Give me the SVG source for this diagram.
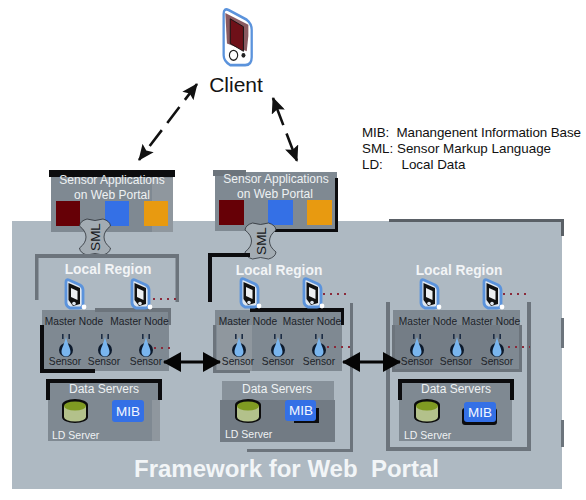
<svg xmlns="http://www.w3.org/2000/svg" width="586" height="500" viewBox="0 0 586 500">
<style>
text{font-family:"Liberation Sans",Arial,sans-serif}
.app{font-size:12px;fill:#eef1f3;text-anchor:middle}
.lr{font-size:13.8px;font-weight:bold;fill:#f2f4f6;text-anchor:middle}
.mn{font-size:10.2px;fill:#1c2228;text-anchor:middle}
.se{font-size:10.2px;fill:#1c2228;text-anchor:middle}
.ds{font-size:12px;fill:#eef1f3;text-anchor:middle}
.ld{font-size:10.5px;fill:#eef1f3}
.mib{font-size:13.5px;fill:#f2f6ff;text-anchor:middle}
.leg{font-size:13.4px;fill:#111;white-space:pre}
.k{fill:#0c0c0e}
.g{fill:#6c747c}
.panel{fill:#7f8992}
.dots{stroke:#8a2a3a;stroke-width:2;stroke-dasharray:2 5;fill:none}
.dash{stroke:#111;stroke-width:2.6;fill:none;stroke-dasharray:20 9;marker-start:url(#head);marker-end:url(#head)}
.solid{stroke:#050505;stroke-width:3;fill:none;marker-start:url(#head2);marker-end:url(#head2)}
</style>
<defs>
<marker id="head" viewBox="0 0 16 14" refX="15" refY="7" markerUnits="userSpaceOnUse" markerWidth="16" markerHeight="14" orient="auto-start-reverse"><path d="M0 0L16 7L0 14L3 7Z" fill="#111"/></marker>
<marker id="head2" viewBox="0 0 18 20" refX="17" refY="10" markerUnits="userSpaceOnUse" markerWidth="18" markerHeight="20" orient="auto-start-reverse"><path d="M0 0L18 10L0 20Z" fill="#050505"/></marker>
<g id="device">
<path d="M1 3Q1 0 4 1L15 6Q18 8 18 11V25Q18 29 14 29L5 29Q1 27 1 24Z" fill="#dfe6ee" stroke="#5b93dc" stroke-width="2.8"/>
<path d="M3.500 4L15 9V25L8 27L3.500 21Z" fill="#111"/>
<path d="M6 9L12.500 12V21L6 18Z" fill="#eceff2"/>
<circle cx="9" cy="24.500" r="1.800" fill="#dfe6ee"/>
<circle cx="19" cy="28" r="2.400" fill="#fff"/>
</g>
<g id="sensor">
<circle cx="0" cy="0" r="7" fill="#0d1a2c"/>
<path d="M0 -13C1.500 -6 4.500 -2 4.500 2A4.500 4.500 0 0 1 -4.500 2C-4.500 -2 -1.500 -6 0 -13Z" fill="#79b5ee"/>
<path d="M-3.200 -16V-11M3.200 -16V-11" stroke="#1c2c44" stroke-width="1.600"/>
</g>
<g id="cyl">
<ellipse cx="0" cy="6" rx="13" ry="6" fill="#0c0c0c"/>
<rect x="-13" y="-6" width="26" height="12" fill="#0c0c0c"/>
<ellipse cx="0" cy="-6" rx="13" ry="6" fill="#0c0c0c"/>
<path d="M-11 -5V6A11 4.500 0 0 0 11 6V-5Z" fill="#b3c18b"/>
<ellipse cx="0" cy="-5" rx="11" ry="4.500" fill="#7f9a22"/>
</g>
<g id="sml">
<path d="M-8 -18Q0 -15 8 -18Q15 -16 15.500 -11Q9 -6 9 0Q9 6 15.500 11Q15 16 8 18Q0 15 -8 18Q-15 16 -15.500 11Q-9 6 -9 0Q-9 -6 -15.500 -11Q-15 -16 -8 -18Z" fill="#a3acb3" stroke="#2b3036" stroke-width="0.800"/>
<text transform="rotate(-90) translate(0 5)" style="font-size:13.500px;fill:#15181b;text-anchor:middle">SML</text>
</g>
</defs>
<rect width="586" height="500" fill="#fff"/>

<g id="framework">
<rect x="12" y="221" width="550" height="268" fill="#aeb9c2"/>
<path d="M389 219H564V236H561V222H389Z" fill="#5a6066"/>
<rect x="561" y="318" width="3" height="30" class="g"/>
<rect x="561" y="420" width="3" height="27" class="g"/>
<text x="134" y="477" style="font-size:24px;font-weight:bold;fill:#f2f5f7;white-space:pre">Framework for Web  Portal</text>
</g>

<g id="client">
<g transform="translate(222 8) scale(1.65 1.97)"><path d="M1 3Q1 0 4 1L15 6Q18 8 18 11V25Q18 29 14 29L5 29Q1 27 1 24Z" fill="#fff" stroke="#5b93dc" stroke-width="1.400"/>
<path d="M2 2.500L16 8.500V14L15 22L3 18Z" fill="#8a5a60"/>
<path d="M5 5.500L13 9.500V22L5 18Z" fill="#6e1018" stroke="#111" stroke-width="0.500"/>
<circle cx="7" cy="24" r="2.500" fill="#fff" stroke="#222" stroke-width="0.700"/>
<circle cx="13" cy="24" r="1.200" fill="#222"/></g>
<text x="236" y="92" style="font-size:21px;fill:#141414;text-anchor:middle">Client</text>
</g>

<g id="legend">
<text x="362" y="137" class="leg" textLength="219">MIB:  Manangenent Information Base</text>
<text x="362" y="153" class="leg">SML: Sensor Markup Language</text>
<text x="362" y="169" class="leg">LD:     Local Data</text>
</g>

<g id="app1">
<rect x="51" y="172" width="122" height="60" class="panel"/>
<rect x="152" y="178" width="21" height="54" fill="#8f979e"/>
<rect x="49" y="170" width="126" height="7" class="k"/>
<text x="112" y="184" class="app">Sensor Applications</text>
<text x="112" y="199" class="app">on Web Portal</text>
<rect x="56" y="201" width="24" height="25" fill="#660006"/>
<rect x="105" y="201" width="24" height="25" fill="#3470e6"/>
<rect x="144" y="201" width="24" height="25" fill="#e89a10"/>
</g>
<g id="app2">
<rect x="215" y="172" width="122" height="59" class="panel"/>
<rect x="213" y="170" width="33" height="6" class="g"/>
<path d="M335 178H338V232H275V229H335Z" class="k"/>
<text x="276" y="183" class="app">Sensor Applications</text>
<text x="275" y="198" class="app">on Web Portal</text>
<rect x="219" y="200" width="25" height="25" fill="#660006"/>
<rect x="268" y="200" width="25" height="25" fill="#3470e6"/>
<rect x="307" y="200" width="25" height="25" fill="#e89a10"/>
</g>
<g id="sml1"><use href="#sml" x="95" y="237"/></g>
<g id="sml2"><use href="#sml" x="260.500" y="241"/></g>

<g id="region1">
<path d="M35 300V254H179V302H175.500V258H38.500V300Z" class="g"/>
<text x="108" y="274" class="lr">Local Region</text>
<rect x="42" y="310" width="127" height="61" fill="#7f8992"/>
<rect x="95" y="308" width="76" height="4" class="g"/>
<rect x="168" y="308" width="3" height="17" class="g"/>
<path d="M40 325H44V369H95V373H40Z" class="k"/>
<use href="#device" x="65" y="279"/>
<use href="#device" x="131" y="279"/>
<path d="M153 299H176" class="dots"/>
<text x="74" y="325" class="mn">Master Node</text>
<text x="139.500" y="325" class="mn">Master Node</text>
<use href="#sensor" x="66" y="350"/>
<use href="#sensor" x="105" y="350"/>
<use href="#sensor" x="146" y="350"/>
<path d="M154 348H175" class="dots"/>
<text x="65" y="365" class="se">Sensor</text>
<text x="104" y="365" class="se">Sensor</text>
<text x="146" y="365" class="se">Sensor</text>
</g>
<g id="data1">
<rect x="48" y="380" width="112" height="61" class="panel"/>
<rect x="152" y="400" width="8" height="41" fill="#8f979e"/>
<path d="M46 379H162V400H158V383H50V400H46Z" class="k"/>
<text x="104" y="393" class="ds">Data Servers</text>
<use href="#cyl" x="75" y="411"/>
<rect x="112" y="400" width="32" height="22" rx="3" fill="#3470e6"/>
<text x="128" y="416" class="mib">MIB</text>
<text x="52" y="439" class="ld">LD Server</text>
</g>

<g id="region2">
<path d="M208 302V253H250V257H212V302Z" class="k"/>
<text x="279" y="275" class="lr">Local Region</text>
<rect x="215" y="310" width="127" height="61" fill="#7f8992"/>
<rect x="217" y="325" width="35" height="46" fill="#8f979e"/>
<path d="M213 325H216V370H250V373H213Z" class="g"/>
<path d="M250 308H344V325H341V312H250Z" class="k"/>
<path d="M350 303H353V452H247V449H350Z" class="g"/>
<use href="#device" x="240" y="278"/>
<use href="#device" x="303" y="278"/>
<path d="M323 294H346" class="dots"/>
<text x="248" y="325" class="mn">Master Node</text>
<text x="312" y="325" class="mn">Master Node</text>
<use href="#sensor" x="239" y="350"/>
<use href="#sensor" x="278" y="350"/>
<use href="#sensor" x="319" y="350"/>
<path d="M327 347H350" class="dots"/>
<text x="238" y="365" class="se">Sensor</text>
<text x="278" y="365" class="se">Sensor</text>
<text x="319" y="365" class="se">Sensor</text>
</g>
<g id="data2">
<rect x="222" y="381" width="112" height="60" fill="#87919a"/>
<rect x="220" y="400" width="115" height="42" fill="#727b84"/>
<text x="277" y="393" class="ds">Data Servers</text>
<use href="#cyl" x="248" y="411"/>
<path d="M294 408H319V423H294Z" class="k"/>
<rect x="285" y="400" width="31" height="21" rx="3" fill="#3470e6"/>
<text x="301" y="415" class="mib">MIB</text>
<text x="225" y="438" class="ld">LD Server</text>
</g>

<g id="region3">
<text x="459" y="275" class="lr">Local Region</text>
<path d="M386 302H390V447H527V302H531V451H386Z" class="g"/>
<rect x="393" y="310" width="127" height="61" fill="#7f8992"/>
<rect x="395" y="325" width="105" height="46" fill="#747d86"/>
<path d="M392 325H395V369H519V325H522V372H392Z" fill="#6c747c"/>
<use href="#device" x="420" y="279"/>
<use href="#device" x="483" y="279"/>
<path d="M503 294H526" class="dots"/>
<text x="428" y="325" class="mn">Master Node</text>
<text x="491" y="325" class="mn">Master Node</text>
<use href="#sensor" x="417" y="350"/>
<use href="#sensor" x="457" y="350"/>
<use href="#sensor" x="497" y="350"/>
<path d="M508 347H530" class="dots"/>
<text x="417" y="365" class="se">Sensor</text>
<text x="456" y="365" class="se">Sensor</text>
<text x="497" y="365" class="se">Sensor</text>
</g>
<g id="data3">
<rect x="399" y="380" width="113" height="61" class="panel"/>
<path d="M398 379H514V400H510V383H402V400H398Z" class="k"/>
<text x="456" y="393" class="ds">Data Servers</text>
<use href="#cyl" x="427" y="411"/>
<rect x="462" y="408" width="35" height="17" rx="3" class="k"/>
<rect x="464" y="402" width="32" height="20" rx="3" fill="#3470e6"/>
<text x="480" y="417" class="mib">MIB</text>
<text x="404" y="439" class="ld">LD Server</text>
</g>

<g id="connectors">
<path d="M197 84L139 160" class="dash"/>
<path d="M273 98L297 161" class="dash" style="stroke-dasharray:29 9"/>
<path d="M164 362H220" class="solid"/>
<path d="M343 362H400" class="solid"/>
</g>
</svg>
